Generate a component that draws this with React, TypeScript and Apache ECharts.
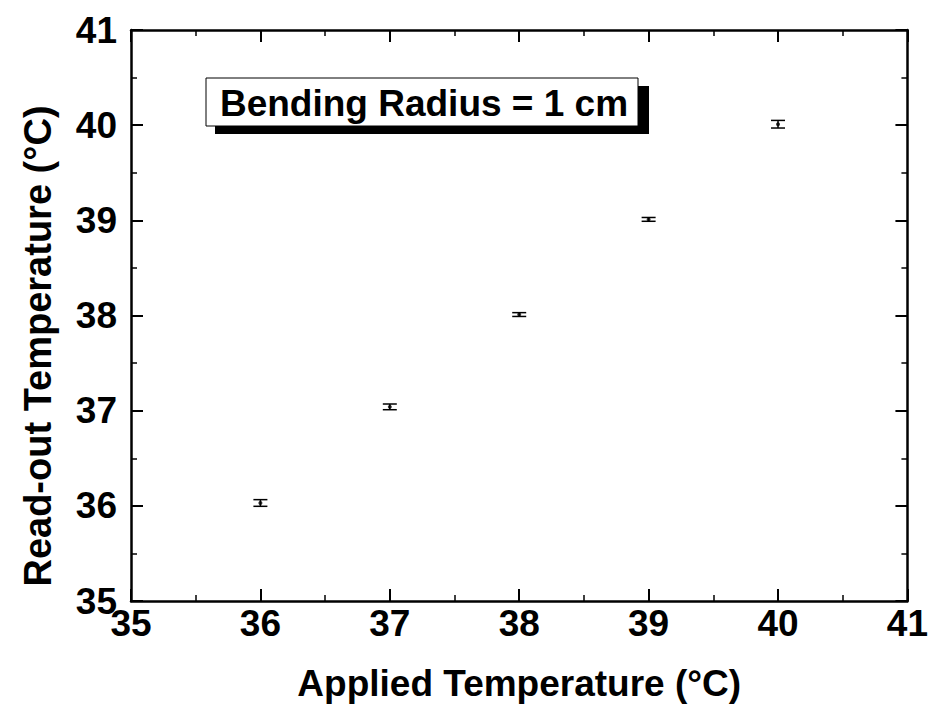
import React, { useEffect, useRef } from "react";
import * as echarts from "echarts";

const appliedTemps = [36, 37, 38, 39, 40];
const readoutTemps = [36.03, 37.04, 38.01, 39.01, 40.01];
const readoutErrors = [0.035, 0.03, 0.02, 0.02, 0.04];
const axisMin = 35;
const axisMax = 41;
const xTitle = "Applied Temperature (°C)";
const yTitle = "Read-out Temperature (°C)";
const annotation = "Bending Radius = 1 cm";

const FONT = "'Liberation Sans', Arial, sans-serif";

export default function App() {
  const ref = useRef<HTMLDivElement>(null);
  useEffect(() => {
    if (!ref.current) return;
    const chart = echarts.init(ref.current, undefined, { renderer: "svg" });
    const points = appliedTemps.map((x, i) => [x, readoutTemps[i]]);
    const errData = appliedTemps.map((x, i) => [x, readoutTemps[i], readoutErrors[i]]);
    const axisCommon = {
      type: "value" as const,
      min: axisMin,
      max: axisMax,
      interval: 1,
      axisLine: { show: true, onZero: false, lineStyle: { color: "#000", width: 2.5 } },
      axisTick: { show: true, inside: true, length: 12, lineStyle: { color: "#000", width: 2 } },
      minorTick: { show: true, splitNumber: 2, length: 6, lineStyle: { color: "#000", width: 1.5 } },
      splitLine: { show: false },
    };
    const labelStyle = { color: "#000", fontFamily: FONT, fontWeight: "bold" as const, fontSize: 37 };
    chart.setOption({
      animation: false,
      backgroundColor: "#fff",
      grid: { left: 131, right: 23, top: 30, bottom: 107 },
      xAxis: [
        {
          ...axisCommon,
          position: "bottom",
          axisLabel: { ...labelStyle, margin: 4 },
          name: xTitle,
          nameLocation: "middle",
          nameGap: 64,
          nameTextStyle: { ...labelStyle },
        },
        {
          ...axisCommon,
          position: "top",
          axisLabel: { show: false },
        },
      ],
      yAxis: [
        {
          ...axisCommon,
          position: "left",
          axisLabel: { ...labelStyle, margin: 14 },
        },
        {
          ...axisCommon,
          position: "right",
          axisLabel: { show: false },
        },
      ],
      series: [
        {
          type: "custom",
          xAxisIndex: 0,
          yAxisIndex: 0,
          data: errData,
          renderItem: (params: any, api: any) => {
            const x = api.value(0);
            const y = api.value(1);
            const e = api.value(2);
            const top = api.coord([x, y + e]);
            const bot = api.coord([x, y - e]);
            const hw = 7;
            const style = { stroke: "#000", lineWidth: 1.5, fill: "none" };
            return {
              type: "group",
              children: [
                { type: "line", shape: { x1: top[0], y1: top[1], x2: bot[0], y2: bot[1] }, style },
                { type: "line", shape: { x1: top[0] - hw, y1: top[1], x2: top[0] + hw, y2: top[1] }, style },
                { type: "line", shape: { x1: bot[0] - hw, y1: bot[1], x2: bot[0] + hw, y2: bot[1] }, style },
              ],
            };
          },
          z: 2,
        },
        {
          type: "scatter",
          xAxisIndex: 0,
          yAxisIndex: 0,
          data: points,
          symbol: "circle",
          symbolSize: 4,
          itemStyle: { color: "#000" },
          z: 3,
        },
      ],
      graphic: [
        {
          type: "text",
          x: 38,
          y: 346,
          rotation: Math.PI / 2,
          style: {
            text: yTitle,
            fill: "#000",
            font: `bold 38px ${FONT}`,
            align: "center",
            verticalAlign: "middle",
          },
          z: 12,
        },
        {
          type: "rect",
          shape: { x: 215, y: 86, width: 434, height: 48 },
          style: { fill: "#000" },
          z: 10,
        },
        {
          type: "rect",
          shape: { x: 206, y: 78, width: 432, height: 48 },
          style: { fill: "#fff", stroke: "#000", lineWidth: 1 },
          z: 11,
        },
        {
          type: "text",
          x: 424,
          y: 103,
          style: {
            text: annotation,
            fill: "#000",
            font: `bold 37px ${FONT}`,
            align: "center",
            verticalAlign: "middle",
          },
          z: 12,
        },
      ],
    });
    return () => chart.dispose();
  }, []);
  return <div ref={ref} style={{ width: 931, height: 708, position: "absolute", left: 0, top: 0 }} />;
}
